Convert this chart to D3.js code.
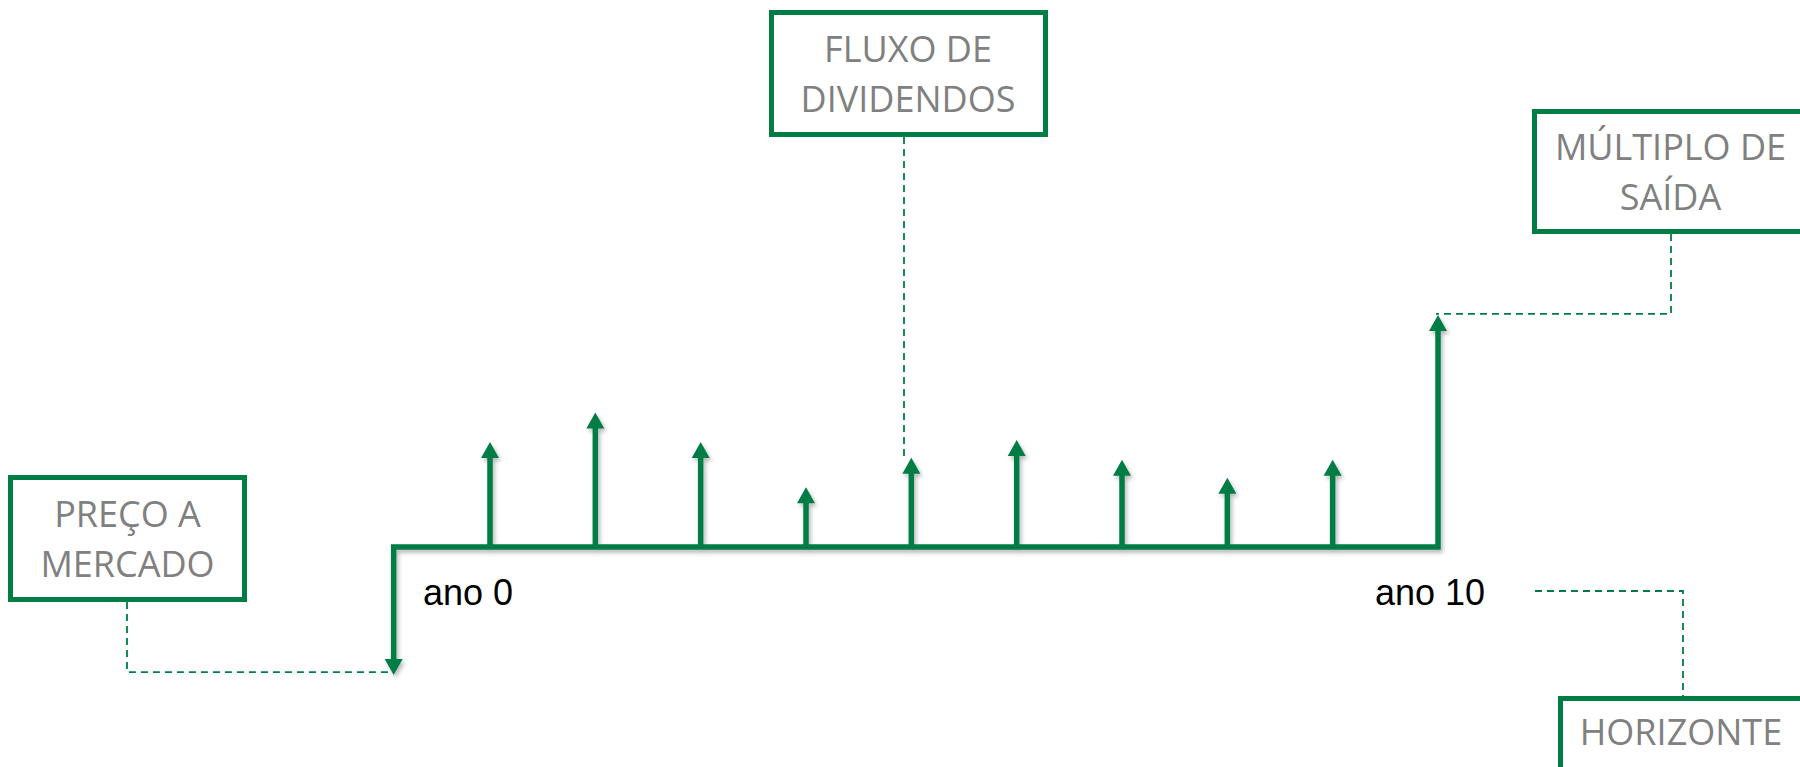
<!DOCTYPE html>
<html>
<head>
<meta charset="utf-8">
<script src="https://cdn.jsdelivr.net/npm/d3@7"></script>
<style>
  html, body { margin: 0; padding: 0; background: #ffffff; }
  svg { display: block; }
</style>
</head>
<body>
<svg id="chart" width="1800" height="767"></svg>
<script>
// ---- data ----
const years = [0, 1, 2, 3, 4, 5, 6, 7, 8, 9, 10];
const entryPrice = -12.2;                 // year 0 outflow (price paid)
const dividendYears = [1, 2, 3, 4, 5, 6, 7, 8, 9];
const dividends = [10.0, 12.8, 10.0, 5.7, 8.5, 10.2, 8.3, 6.6, 8.3];
const exitYear = 10;
const exitValue = 22.1;                   // exit multiple value at horizon
const axisLabels = ["ano 0", "ano 10"];
const boxLabels = [
  ["PREÇO A", "MERCADO"],
  ["FLUXO DE", "DIVIDENDOS"],
  ["MÚLTIPLO DE", "SAÍDA"],
  ["HORIZONTE"]
];

// ---- styles ----
const GREEN = "#007d45";
const GRAY = "#808080";
const svg = d3.select("#chart");

const defs = svg.append("defs");
const f = defs.append("filter").attr("id", "shadow")
  .attr("x", "-20%").attr("y", "-20%").attr("width", "140%").attr("height", "140%");
f.append("feDropShadow").attr("dx", 2).attr("dy", 3).attr("stdDeviation", 2)
  .attr("flood-color", "#000").attr("flood-opacity", 0.28);

// ---- scales ----
const x = d3.scaleLinear().domain([1, 10]).range([490, 1438]);
const y = d3.scaleLinear().domain([0, 10]).range([547, 442]);
const startX = x(0) + 9;
const headW = 9, headH = 16;

const g = svg.append("g").attr("filter", "url(#shadow)");

// main polyline: price arrow -> baseline -> exit arrow
const main = d3.path();
main.moveTo(startX, y(entryPrice) - headH);
main.lineTo(startX, y(0));
main.lineTo(x(exitYear), y(0));
main.lineTo(x(exitYear), y(exitValue) + headH);
g.append("path").attr("d", main.toString())
  .attr("fill", "none").attr("stroke", GREEN).attr("stroke-width", 5.5)
  .attr("stroke-linejoin", "miter");

function head(cx, tipY, dir) {
  // dir = -1 up, +1 down
  const base = tipY - dir * headH;
  return `M${cx},${tipY}L${cx - headW},${base}L${cx + headW},${base}Z`;
}
g.append("path").attr("d", head(startX, y(entryPrice), 1)).attr("fill", GREEN);
g.append("path").attr("d", head(x(exitYear), y(exitValue), -1)).attr("fill", GREEN);

// dividend arrows
const div = dividendYears.map((yr, i) => ({ yr, v: dividends[i] }));
g.selectAll("line.div").data(div).join("line").attr("class", "div")
  .attr("x1", d => x(d.yr)).attr("x2", d => x(d.yr))
  .attr("y1", y(0)).attr("y2", d => y(d.v) + headH - 1)
  .attr("stroke", GREEN).attr("stroke-width", 5.5);
g.selectAll("path.dh").data(div).join("path").attr("class", "dh")
  .attr("d", d => head(x(d.yr), y(d.v), -1)).attr("fill", GREEN);

// axis labels
svg.append("text").attr("x", 423).attr("y", 605)
  .attr("font-family", "Liberation Sans, Arial, sans-serif").attr("font-size", 36)
  .attr("fill", "#000").text(axisLabels[0]);
svg.append("text").attr("x", 1485).attr("y", 605).attr("text-anchor", "end")
  .attr("font-family", "Liberation Sans, Arial, sans-serif").attr("font-size", 36)
  .attr("fill", "#000").text(axisLabels[1]);

// dashed connectors
const dash = svg.append("g").attr("fill", "none").attr("stroke", GREEN)
  .attr("stroke-width", 1.8).attr("stroke-dasharray", "7,5");
const conns = [
  [[127, 602], [127, y(entryPrice) - 3], [startX - 1, y(entryPrice) - 3]],
  [[904, 137], [904, y(dividends[4]) - 1]],
  [[1671, 234], [1671, y(exitValue) - 1], [x(exitYear) - 2, y(exitValue) - 1]],
  [[1535, 591], [1683, 591], [1683, 696]]
];
dash.selectAll("path").data(conns).join("path")
  .attr("d", d => d3.line()(d));

// boxes
const boxes = [
  { x: 10.5, y: 477.5, w: 234, h: 122, cx: 127.5, base: 527, lines: boxLabels[0] },
  { x: 771.5, y: 12.5, w: 274, h: 122, cx: 908, base: 62, lines: boxLabels[1] },
  { x: 1534.5, y: 111.5, w: 272, h: 120, cx: 1670.5, base: 160, lines: boxLabels[2] },
  { x: 1560.5, y: 698.5, w: 246, h: 120, cx: 1681, base: 745, lines: boxLabels[3] }
];
const bg = svg.append("g");
bg.selectAll("rect").data(boxes).join("rect")
  .attr("x", d => d.x).attr("y", d => d.y).attr("width", d => d.w).attr("height", d => d.h)
  .attr("fill", "#fff").attr("stroke", GREEN).attr("stroke-width", 5);
boxes.forEach(b => {
  b.lines.forEach((t, i) => {
    bg.append("text").attr("x", b.cx).attr("y", b.base + i * 50)
      .attr("text-anchor", "middle")
      .attr("font-family", "Open Sans, Noto Sans, sans-serif").attr("font-size", 36)
      .attr("fill", GRAY).text(t);
  });
});
</script>
</body>
</html>
